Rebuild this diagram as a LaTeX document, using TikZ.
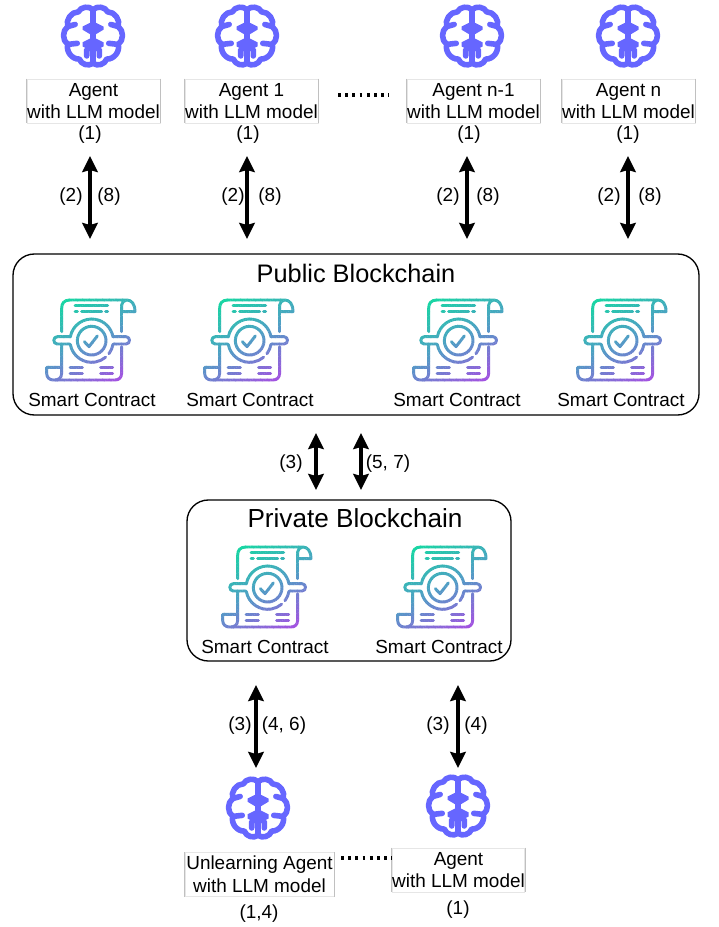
\documentclass[tikz,border=0pt]{standalone}
\usepackage{fontspec}
\setmainfont{Liberation Sans}
\usetikzlibrary{arrows.meta}
\definecolor{brainc}{HTML}{6666FF}
\definecolor{cgreen}{HTML}{12DBA0}
\definecolor{cmid}{HTML}{4F9FC4}
\definecolor{cpurple}{HTML}{A64FE2}
\definecolor{boxline}{HTML}{E6E6E6}
\definecolor{boxside}{HTML}{C0C0C0}
\newcommand{\brainhalf}{%
  \draw[brainstroke] (0,-25) to[bend right=55] (-14,-23) to[bend right=55] (-24,-9)
     to[bend right=55] (-24,8) to[bend right=55] (-13,22) to[bend right=55] (0,26);
  \draw[brainstroke] (-24,-9) -- (-17,-11);
  \draw[brainstroke] (-24,8) -- (-15,7);
  \fill[brainc] (0,-14) -- (-10,-9) -- (-10,-6) -- (0,0) -- cycle;
  \fill[brainc] (0,1) -- (-10,6) -- (-10,10) -- (0,15) -- cycle;
  \draw[brainstroke] (-1,10) -- (-6,13) -- (-6,19);
}
\newcommand{\contractlines}{%
  \draw (65,125) -- (65,55) .. controls (65,40) and (72,30) .. (90,30) -- (260,30)
        .. controls (275,30) and (285,42) .. (285,65) -- (245,65) -- (245,45)
        .. controls (245,38) and (252,30) .. (260,30);
  \draw (245,65) -- (245,125);
  \draw (245,170) -- (245,250) .. controls (245,262) and (237,270) .. (225,270) -- (40,270)
        .. controls (28,270) and (20,262) .. (20,250) -- (20,232) -- (65,232) -- (65,165);
  \draw (65,232) -- (65,250) .. controls (65,262) and (57,270) .. (45,270);
  \draw (105,47) -- (203,47);
  \draw (105,65) -- (112,65) (125,65) -- (185,65) (197,65) -- (203,65);
  \draw (90,140) -- (52,140) .. controls (38,140) and (38,162) .. (52,162) -- (90,162);
  \draw (220,140) -- (258,140) .. controls (272,140) and (272,162) .. (258,162) -- (220,162);
  \draw (155,152) circle [radius=43];
  \draw ([shift={(155,152)}]190:65) arc [start angle=190,end angle=350,radius=65];
  \draw ([shift={(155,152)}]170:65) arc [start angle=170,end angle=50,radius=65];
  \draw ([shift={(155,152)}]37:65) arc [start angle=37,end angle=10,radius=65];
  \draw (133,155) -- (147,170) -- (172,138);
  \draw (90,233) -- (127,233) (90,250) -- (127,250);
  \draw (182,233) -- (218,233) (182,250) -- (218,250);
}
\tikzset{
  x=0.75pt, y=-0.75pt,
  brainstroke/.style={draw=brainc,line width=4.2pt,line cap=round,line join=round},
  brain/.pic={
    \begin{scope}[scale=1.05]
    \brainhalf
    \begin{scope}[xscale=-1]\brainhalf\end{scope}
    \draw[brainstroke] (0,-25) -- (0,26);
    \end{scope}
  },
  contract/.pic={
    \begin{scope}[scale=0.3333]
    \foreach \i in {0,...,34}{
      \pgfmathsetmacro\tv{\i/34}
      \pgfmathsetmacro\pA{max(0,100-200*\tv)}
      \pgfmathsetmacro\pB{min(100,200-200*\tv)}
      \pgfmathsetmacro\sA{50+10*\i}
      \pgfmathsetmacro\sB{\sA+10.5}
      \colorlet{bandb}{cmid!\pB!cpurple}
      \colorlet{bandc}{cgreen!\pA!bandb}
      \begin{scope}
        \clip ({-10},{\sA+5}) -- ({310},{\sA-155}) -- ({310},{\sB-155}) -- ({-10},{\sB+5}) -- cycle;
        \begin{scope}[draw=bandc,line width=2.2pt,line cap=round,line join=round]
          \contractlines
        \end{scope}
      \end{scope}
    }
    \end{scope}
  },
  agentbox/.style={draw=boxline,line width=0.6pt,inner sep=0pt,align=center,
    font=\fontsize{14.2}{17}\selectfont,minimum height=33pt},
  txt/.style={inner sep=0pt,font=\fontsize{14.2}{17}\selectfont},
  lab/.style={txt,yshift=-1.7pt},
  title/.style={inner sep=0pt,font=\fontsize{19}{22}\selectfont},
  chain/.style={draw=black,line width=1pt,rounded corners=16pt,inner sep=0pt},
  biarrow/.style={line width=2.9pt,{Stealth[length=12pt,width=11.5pt,inset=1.5pt]}-{Stealth[length=12pt,width=11.5pt,inset=1.5pt]}},
  dotted line/.style={line width=2.4pt,dash pattern=on 2.1pt off 3.3pt},
}
\begin{document}
\begin{tikzpicture}
\path[use as bounding box] (0,0) rectangle (718,927);
% chains
\node[chain,minimum width=514.5pt,minimum height=120.75pt] (public) at (356,334.5) {};
\node[chain,minimum width=243pt,minimum height=120.75pt] (private) at (349,580.5) {};
\node[title] (publict) at (356,273) {Public Blockchain};
\node[title,font=\fontsize{19.6}{22}\selectfont] (privatet) at (355,518) {Private Blockchain};
% brains
\pic (b1) at (93,36) {brain};
\pic (b2) at (247,36) {brain};
\pic (b3) at (472,36) {brain};
\pic (b4) at (628,36) {brain};
\pic (b5) at (258,808) {brain};
\pic (b6) at (458,806) {brain};
% agents
\node[agentbox,minimum width=99.75pt] (a1) at (93.5,101) {Agent\hspace{4pt}\\with LLM model};
\node[agentbox,minimum width=99.75pt] (a2) at (251.5,101) {Agent 1\hspace{4pt}\\with LLM model};
\node[agentbox,minimum width=99.75pt] (a3) at (473.5,101) {Agent n-1\hspace{4pt}\\with LLM model};
\node[agentbox,minimum width=99.75pt] (a4) at (628.5,101) {Agent n\\with LLM model};
\node[agentbox,minimum width=111.75pt] (a5) at (259.5,874.5) {Unlearning Agent\\with LLM model};
\node[agentbox,minimum width=99pt] (a6) at (458.5,870) {Agent\\with LLM model};
\foreach \bx in {a1,a2,a3,a4,a5,a6}{
  \draw[boxside,line width=0.6pt] (\bx.north west) -- (\bx.south west);
  \draw[boxside,line width=0.6pt] (\bx.north east) -- (\bx.south east);
}
\node[lab] (n1) at (90,132) {(1)};
\node[lab] (n2) at (248,132) {(1)};
\node[lab] (n3) at (469,132) {(1)};
\node[lab] (n4) at (628,132) {(1)};
\node[lab] (n5) at (259,911) {(1,4)};
\node[lab] (n6) at (458,907) {(1)};
% dots
\coordinate (d1) at (338,95); \coordinate (d2) at (389,95);
\coordinate (d3) at (341,858); \coordinate (d4) at (392,858);
\draw[dotted line] (d1) -- (d2);
\draw[dotted line] (d3) -- (d4);
% contracts
\pic at (40,290) {contract};
\pic at (198,290) {contract};
\pic at (407,290) {contract};
\pic at (571,290) {contract};
\pic at (216,537) {contract};
\pic at (391,537) {contract};
\node[txt] (s1) at (92,400) {Smart Contract};
\node[txt] (s2) at (250,400) {Smart Contract};
\node[txt] (s3) at (457,400) {Smart Contract};
\node[txt] (s4) at (621,400) {Smart Contract};
\node[txt] (s5) at (265,647) {Smart Contract};
\node[txt] (s6) at (439,647) {Smart Contract};
% arrows
\foreach \nm/\xx/\ya/\yb in {u1/90/156/239,u2/247/156/239,u3/467/156/239,u4/628/156/239,m1/316/433/490,m2/361/433/490,l1/256/685/768,l2/458/685/768}{
  \coordinate (\nm t) at (\xx,\ya);
  \coordinate (\nm b) at (\xx,\yb);
  \draw[biarrow] (\nm t) -- (\nm b);
}
\node[lab] at (71,194) {(2)}; \node[lab] at (109,194) {(8)};
\node[lab] at (233,194) {(2)}; \node[lab] at (270,194) {(8)};
\node[lab] at (448,194) {(2)}; \node[lab] at (488,194) {(8)};
\node[lab] at (609,194) {(2)}; \node[lab] at (650,194) {(8)};
\node[lab] at (291,461) {(3)}; \node[lab] at (388,461) {(5, 7)};
\node[lab] at (240,723) {(3)}; \node[lab] at (284,723) {(4, 6)};
\node[lab] at (438,723) {(3)}; \node[lab] at (476,723) {(4)};
\end{tikzpicture}
\end{document}
